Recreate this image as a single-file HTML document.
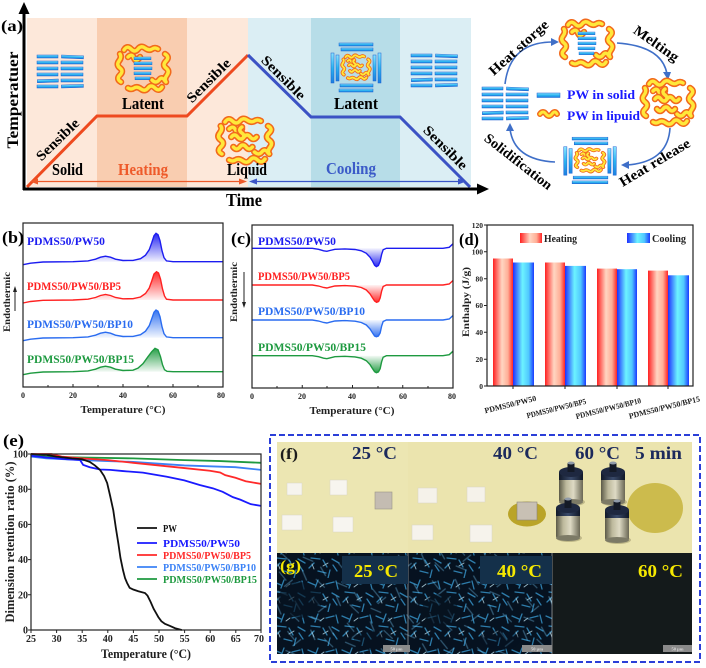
<!DOCTYPE html>
<html><head><meta charset="utf-8"><style>
html,body{margin:0;padding:0;background:#fff;}
svg{display:block;}
text{font-family:"Liberation Serif",serif;font-weight:bold;}
</style></head><body>
<svg width="706" height="668" viewBox="0 0 706 668" xmlns="http://www.w3.org/2000/svg" xmlns:xlink="http://www.w3.org/1999/xlink">
<defs>
 <linearGradient id="sg" x1="0" y1="0" x2="0" y2="1"><stop offset="0" stop-color="#8ae4ff"/><stop offset=".5" stop-color="#2cb4f0"/><stop offset="1" stop-color="#1a7fe0"/></linearGradient>
 <g id="stripes" fill="url(#sg)" stroke="#1e5fd0" stroke-width=".5">
  <rect x="-23" y="-16" width="21" height="3"/><rect x="1" y="-16" width="22" height="3" transform="rotate(2)"/>
  <rect x="-23" y="-10" width="21" height="3"/><rect x="1" y="-10" width="22" height="3"/>
  <rect x="-23" y="-4" width="21" height="3"/><rect x="1" y="-4" width="22" height="3"/>
  <rect x="-23" y="2" width="21" height="3"/><rect x="1" y="2" width="22" height="3"/>
  <rect x="-23" y="8" width="21" height="3" transform="rotate(-2)"/><rect x="1" y="8" width="22" height="3"/>
  <rect x="-23" y="14" width="21" height="3"/><rect x="1" y="14" width="22" height="3" transform="rotate(-1.5)"/>
 </g>
 <g id="ring" fill="none" stroke-linecap="round" stroke-linejoin="round">
  <path d="M-19,-18 q3,-5 7,-1 t7,0 t7,-1 t7,1 t6,0"/>
  <path d="M22,-14 q5,3 1,7 t0,7 t1,7 t-1,7"/>
  <path d="M19,19 q-3,5 -7,1 t-7,0 t-7,1 t-7,-1 t-6,0"/>
  <path d="M-22,14 q-5,-3 -1,-7 t0,-7 t-1,-7 t1,-7"/>
  <path d="M-15,-11 q4,-4 6,1 t6,-1"/>
  <path d="M9,12 q4,4 7,0 t6,1"/>
 </g>
 <g id="inner" fill="none" stroke-linecap="round" stroke-linejoin="round">
  <path d="M-13,-3 q3,-4 6,0 t6,0 t6,0 t6,0"/>
  <path d="M-11,7 q3,4 6,0 t6,0 t6,0"/>
  <path d="M-3,-13 q-4,3 0,6 t0,6"/>
 </g>
 <g id="blobR"><use xlink:href="#ring" stroke="#f26a1c" stroke-width="6.5"/><use xlink:href="#ring" stroke="#ffe83a" stroke-width="3.4"/></g>
 <g id="blobL"><use xlink:href="#blobR"/><use xlink:href="#inner" stroke="#f26a1c" stroke-width="6.5"/><use xlink:href="#inner" stroke="#ffe83a" stroke-width="3.4"/></g>
 <g id="latH"><use xlink:href="#blobR"/>
  <g fill="url(#sg)" stroke="#1e5fd0" stroke-width=".4"><rect x="-9" y="-11" width="17" height="2.8"/><rect x="-9" y="-6" width="18" height="2.8"/><rect x="-9" y="-1" width="18" height="2.8"/><rect x="-9" y="4" width="17" height="2.8"/><rect x="-8" y="9" width="15" height="2.8"/></g>
 </g>
 <g id="frame">
  <g fill="url(#sg)" stroke="#1e5fd0" stroke-width=".5">
   <rect x="-17" y="-24" width="34" height="3"/><rect x="-15" y="-19" width="32" height="3"/>
   <rect x="-16" y="17" width="33" height="3"/><rect x="-17" y="22" width="34" height="3"/>
   <rect x="-25" y="-14" width="3" height="30"/><rect x="-20" y="-12" width="3" height="26"/>
   <rect x="17" y="-12" width="3" height="26"/><rect x="22" y="-14" width="3" height="30"/>
  </g>
  <use xlink:href="#blobL" transform="scale(.55)"/>
 </g>
 <linearGradient id="hg" x1="0" x2="1" y1="0" y2="0"><stop offset="0" stop-color="#ff2020"/><stop offset=".45" stop-color="#ffd6c2"/><stop offset=".75" stop-color="#ffae96"/><stop offset="1" stop-color="#ff2525"/></linearGradient>
 <linearGradient id="cg" x1="0" x2="1" y1="0" y2="0"><stop offset="0" stop-color="#1f30ff"/><stop offset=".45" stop-color="#6cf3ff"/><stop offset=".75" stop-color="#50c8ff"/><stop offset="1" stop-color="#1a3aff"/></linearGradient>
 <linearGradient id="fB" x1="0" y1="0" x2="0" y2="1"><stop offset="0" stop-color="#1c1cf0" stop-opacity=".95"/><stop offset="1" stop-color="#1c1cf0" stop-opacity=".06"/></linearGradient>
 <linearGradient id="fR" x1="0" y1="0" x2="0" y2="1"><stop offset="0" stop-color="#ff2020" stop-opacity=".95"/><stop offset="1" stop-color="#ff2020" stop-opacity=".06"/></linearGradient>
 <linearGradient id="fL" x1="0" y1="0" x2="0" y2="1"><stop offset="0" stop-color="#2a6cf0" stop-opacity=".95"/><stop offset="1" stop-color="#2a6cf0" stop-opacity=".06"/></linearGradient>
 <linearGradient id="fG" x1="0" y1="0" x2="0" y2="1"><stop offset="0" stop-color="#1e9a40" stop-opacity=".95"/><stop offset="1" stop-color="#1e9a40" stop-opacity=".06"/></linearGradient>
 <linearGradient id="cB" x1="0" y1="1" x2="0" y2="0"><stop offset="0" stop-color="#1c1cf0" stop-opacity=".95"/><stop offset="1" stop-color="#1c1cf0" stop-opacity=".05"/></linearGradient>
 <linearGradient id="cR" x1="0" y1="1" x2="0" y2="0"><stop offset="0" stop-color="#ff2020" stop-opacity=".95"/><stop offset="1" stop-color="#ff2020" stop-opacity=".05"/></linearGradient>
 <linearGradient id="cL" x1="0" y1="1" x2="0" y2="0"><stop offset="0" stop-color="#2a6cf0" stop-opacity=".95"/><stop offset="1" stop-color="#2a6cf0" stop-opacity=".05"/></linearGradient>
 <linearGradient id="cG" x1="0" y1="1" x2="0" y2="0"><stop offset="0" stop-color="#1e9a40" stop-opacity=".95"/><stop offset="1" stop-color="#1e9a40" stop-opacity=".05"/></linearGradient>
 <linearGradient id="wg" x1="0" x2="1" y1="0" y2="0"><stop offset="0" stop-color="#5c5a48"/><stop offset=".3" stop-color="#bdb99c"/><stop offset=".6" stop-color="#dedac4"/><stop offset="1" stop-color="#6a6754"/></linearGradient>
 <linearGradient id="wc" x1="0" x2="1" y1="0" y2="0"><stop offset="0" stop-color="#101828"/><stop offset=".5" stop-color="#3a4a6a"/><stop offset="1" stop-color="#101828"/></linearGradient>
 <g id="wt">
  <ellipse cx="1" cy="40" rx="13" ry="4" fill="#9c956a" opacity=".55"/>
  <rect x="-12" y="10" width="24" height="30" rx="2" fill="url(#wg)"/>
  <ellipse cx="0" cy="40" rx="12" ry="3" fill="#7c7a66"/>
  <rect x="-12" y="10" width="24" height="8" fill="url(#wc)"/>
  <ellipse cx="0" cy="10" rx="12" ry="5" fill="#1e2840"/>
  <rect x="-3.5" y="1" width="7" height="9" fill="#141a26"/>
  <ellipse cx="0" cy="1" rx="3.5" ry="1.5" fill="#8f9aa8"/>
 </g>
 <pattern id="cr" width="34" height="34" patternUnits="userSpaceOnUse">
  <path d="M2,4 l7,3 M12,2 l-3,8 M20,6 l8,-2 M30,3 l2,8 M5,14 l9,1 M17,16 l4,7 M26,15 l7,4 M3,24 l5,-5 M12,27 l8,2 M24,26 l-2,8 M31,27 l-4,-6" stroke="#3a9fd8" stroke-width="1.3" stroke-linecap="round" fill="none"/>
  <path d="M14,9 l4,-3 M22,19 l-5,3 M6,20 l2,5" stroke="#c8f0ff" stroke-width=".9" stroke-linecap="round" fill="none"/>
 </pattern>
 <pattern id="cr2" width="34" height="34" patternUnits="userSpaceOnUse" patternTransform="rotate(37) scale(1.25)">
  <path d="M2,4 l7,3 M20,6 l8,-2 M5,14 l9,1 M26,15 l7,4 M12,27 l8,2 M24,26 l-2,8" stroke="#7ad0ff" stroke-width="1.1" stroke-linecap="round" fill="none"/>
 </pattern>
</defs>

<!-- ===== Panel (a) ===== -->
<rect x="27" y="18" width="70" height="169" fill="#fde8da"/>
<rect x="97" y="18" width="90" height="169" fill="#f9cdb0"/>
<rect x="187" y="18" width="61" height="169" fill="#fde8da"/>
<rect x="248" y="18" width="63" height="169" fill="#dbeef4"/>
<rect x="311" y="18" width="89" height="169" fill="#b7dde8"/>
<rect x="400" y="18" width="71" height="169" fill="#dbeef4"/>

<use xlink:href="#stripes" transform="translate(60,71)"/>
<use xlink:href="#stripes" transform="translate(434,70)"/>
<use xlink:href="#latH" transform="translate(143,68)"/>
<use xlink:href="#blobL" transform="translate(245,140) scale(1.05,1)"/>
<use xlink:href="#frame" transform="translate(356,67)"/>

<polyline points="27,187 97,116 187,116 248,55" fill="none" stroke="#ee4a1f" stroke-width="3"/>
<polyline points="248,55 311,117 400,117 470,187" fill="none" stroke="#3b52c4" stroke-width="3"/>

<line x1="36" y1="181.5" x2="240" y2="181.5" stroke="#ee5a2a" stroke-width="1.3"/>
<polygon points="30,181.5 38,178.5 38,184.5" fill="#ee5a2a"/><polygon points="247,181.5 239,178.5 239,184.5" fill="#ee5a2a"/>
<line x1="254" y1="181.5" x2="460" y2="181.5" stroke="#3b55c8" stroke-width="1.3"/>
<polygon points="249,181.5 257,178.5 257,184.5" fill="#3b55c8"/><polygon points="466,181.5 458,178.5 458,184.5" fill="#3b55c8"/>

<line x1="24" y1="190" x2="24" y2="12" stroke="#000" stroke-width="3"/>
<polygon points="24,2 18.5,14 29.5,14" fill="#000"/>
<line x1="23" y1="189" x2="478" y2="189" stroke="#000" stroke-width="3"/>
<polygon points="489,189 477,183.5 477,194.5" fill="#000"/>

<text x="1" y="31" font-size="16" textLength="22" lengthAdjust="spacingAndGlyphs">(a)</text>
<text transform="translate(18,100) rotate(-90)" text-anchor="middle" font-size="16" textLength="97" lengthAdjust="spacingAndGlyphs">Temperatuer</text>
<text x="226" y="206" font-size="18" textLength="36" lengthAdjust="spacingAndGlyphs">Time</text>
<text x="122" y="109" font-size="17" textLength="42" lengthAdjust="spacingAndGlyphs">Latent</text>
<text x="334" y="109" font-size="17" textLength="44" lengthAdjust="spacingAndGlyphs">Latent</text>
<text x="52" y="175" font-size="17" textLength="31" lengthAdjust="spacingAndGlyphs">Solid</text>
<text x="118" y="175" font-size="17" fill="#ee5a2a" textLength="50" lengthAdjust="spacingAndGlyphs">Heating</text>
<text x="227" y="175" font-size="17" textLength="40" lengthAdjust="spacingAndGlyphs">Liquid</text>
<text x="326" y="174" font-size="17" fill="#3b5bc8" textLength="50" lengthAdjust="spacingAndGlyphs">Cooling</text>
<text transform="translate(58,140) rotate(-44)" y="4" text-anchor="middle" font-size="14" textLength="54" lengthAdjust="spacingAndGlyphs">Sensible</text>
<text transform="translate(209,81) rotate(-45)" y="4" text-anchor="middle" font-size="14" textLength="56" lengthAdjust="spacingAndGlyphs">Sensible</text>
<text transform="translate(283,78) rotate(45)" y="4" text-anchor="middle" font-size="14" textLength="56" lengthAdjust="spacingAndGlyphs">Sensible</text>
<text transform="translate(445,148) rotate(45)" y="4" text-anchor="middle" font-size="14" textLength="56" lengthAdjust="spacingAndGlyphs">Sensible</text>

<!-- right cycle -->
<g fill="none" stroke="#3f6fc8" stroke-width="1.6">
 <path d="M505,84 Q510,42 553,42"/>
 <path d="M617,43 Q662,46 667,74"/>
 <path d="M670,128 Q668,162 627,165"/>
 <path d="M555,162 Q514,160 510,129"/>
</g>
<g fill="#3f6fc8">
 <polygon points="559,42 551,38 551,46"/>
 <polygon points="668,80 663,72 671,72"/>
 <polygon points="621,165 629,161 629,169"/>
 <polygon points="510,123 506,131 514,131"/>
</g>
<use xlink:href="#latH" transform="translate(587,43)"/>
<use xlink:href="#blobL" transform="translate(668,102)"/>
<use xlink:href="#frame" transform="translate(590,160) scale(1.05,.95)"/>
<use xlink:href="#stripes" transform="translate(505,103)"/>
<rect x="537" y="93" width="23" height="4.5" fill="url(#sg)" stroke="#1e5fd0" stroke-width=".5"/>
<path d="M540,114 q3,-4 6,0 t6,0 t5,0" fill="none" stroke="#f26a1c" stroke-width="6" stroke-linecap="round"/>
<path d="M540,114 q3,-4 6,0 t6,0 t5,0" fill="none" stroke="#ffe83a" stroke-width="3" stroke-linecap="round"/>
<text x="567" y="99" font-size="13" fill="#1a1aff" textLength="68" lengthAdjust="spacingAndGlyphs">PW in solid</text>
<text x="567" y="120" font-size="13" fill="#1a1aff" textLength="73" lengthAdjust="spacingAndGlyphs">PW in lipuid</text>
<text transform="translate(519,48) rotate(-42)" y="4" text-anchor="middle" font-size="14" textLength="75" lengthAdjust="spacingAndGlyphs">Heat storge</text>
<text transform="translate(656,44) rotate(35)" y="4" text-anchor="middle" font-size="14" textLength="52" lengthAdjust="spacingAndGlyphs">Melting</text>
<text transform="translate(655,163) rotate(-31)" y="4" text-anchor="middle" font-size="14" textLength="80" lengthAdjust="spacingAndGlyphs">Heat release</text>
<text transform="translate(518,162) rotate(38)" y="4" text-anchor="middle" font-size="14" textLength="82" lengthAdjust="spacingAndGlyphs">Solidification</text>

<!-- ===== Panel (b) ===== -->
<g>
 <g transform="translate(23,261.7) scale(2.5,1)">
  <path d="M28,0 L29,-2.5 L31,-4.5 L33,-5.5 L35,-4.5 L37,-2.5 L40,-1.2 L44,-1.3 L47,-3 L49,-6.5 L50.5,-12 L51.5,-19 L52.4,-26 L53.2,-28.4 L54,-27 L54.8,-21 L55.6,-11 L56.4,-4 L57.4,-0.8 L58,0 Z" fill="url(#fB)"/>
  <path d="M0,3 L3,1.5 L8,0.3 L20,0 L26,-0.8 L29,-2.5 L31,-4.5 L33,-5.5 L35,-4.5 L37,-2.5 L40,-1.2 L44,-1.3 L47,-3 L49,-6.5 L50.5,-12 L51.5,-19 L52.4,-26 L53.2,-28.4 L54,-27 L54.8,-21 L55.6,-11 L56.4,-4 L57.4,-0.8 L60,0 L80,0" fill="none" stroke="#1c1cf0" stroke-width="1.4" vector-effect="non-scaling-stroke"/>
 </g>
 <g transform="translate(23,300) scale(2.5,1)">
  <path d="M28,0 L29,-2.5 L31,-4.5 L33,-5.5 L35,-4.5 L37,-2.5 L40,-1.2 L44,-1.3 L47,-3 L49,-6.5 L50.5,-12 L51.5,-19 L52.4,-26 L53.4,-28.3 L54.2,-27 L55,-21 L55.8,-11 L56.6,-4 L57.4,-0.8 L58,0 Z" fill="url(#fR)"/>
  <path d="M0,3 L3,1.5 L8,0.3 L20,0 L26,-0.8 L29,-2.5 L31,-4.5 L33,-5.5 L35,-4.5 L37,-2.5 L40,-1.2 L44,-1.3 L47,-3 L49,-6.5 L50.5,-12 L51.5,-19 L52.4,-26 L53.4,-28.3 L54.2,-27 L55,-21 L55.8,-11 L56.6,-4 L57.4,-0.8 L60,0 L80,0" fill="none" stroke="#ff2020" stroke-width="1.4" vector-effect="non-scaling-stroke"/>
 </g>
 <g transform="translate(23,337.7) scale(2.5,1)">
  <path d="M28,0 L29,-2.5 L31,-4.5 L33,-5.5 L35,-4.5 L37,-2.5 L40,-1.2 L44,-1.3 L47,-3 L49,-6.5 L50.5,-12 L51.5,-19 L52.4,-25.5 L53.2,-27.7 L54,-26.5 L54.8,-21 L55.6,-11 L56.4,-4 L57.4,-0.8 L58,0 Z" fill="url(#fL)"/>
  <path d="M0,3 L3,1.5 L8,0.3 L20,0 L26,-0.8 L29,-2.5 L31,-4.5 L33,-5.5 L35,-4.5 L37,-2.5 L40,-1.2 L44,-1.3 L47,-3 L49,-6.5 L50.5,-12 L51.5,-19 L52.4,-25.5 L53.2,-27.7 L54,-26.5 L54.8,-21 L55.6,-11 L56.4,-4 L57.4,-0.8 L60,0 L80,0" fill="none" stroke="#2a6cf0" stroke-width="1.4" vector-effect="non-scaling-stroke"/>
 </g>
 <g transform="translate(23,371.7) scale(2.5,1)">
  <path d="M28,0 L29,-2.5 L31,-4.5 L33,-5.5 L35,-4.5 L37,-2.5 L40,-1.2 L44,-1.5 L46,-3.5 L48,-8 L50,-15 L51.5,-20 L52.8,-23.4 L54,-22 L55,-15 L55.8,-7 L56.6,-2 L57.6,-0.4 L58,0 Z" fill="url(#fG)"/>
  <path d="M0,3 L3,1.5 L8,0.3 L20,0 L26,-0.8 L29,-2.5 L31,-4.5 L33,-5.5 L35,-4.5 L37,-2.5 L40,-1.2 L44,-1.5 L46,-3.5 L48,-8 L50,-15 L51.5,-20 L52.8,-23.4 L54,-22 L55,-15 L55.8,-7 L56.6,-2 L57.6,-0.4 L60,0 L80,0" fill="none" stroke="#1e9a40" stroke-width="1.4" vector-effect="non-scaling-stroke"/>
 </g>
 <rect x="23" y="223" width="200" height="164" fill="none" stroke="#222" stroke-width="1.2"/>
 <g stroke="#222" stroke-width="1"><path d="M23,387v-3M73,387v-3M123,387v-3M173,387v-3M223,387v-3M48,387v-2M98,387v-2M148,387v-2M198,387v-2"/></g>
 <g font-size="8" text-anchor="middle" fill="#222"><text x="23" y="398">0</text><text x="73" y="398">20</text><text x="123" y="398">40</text><text x="173" y="398">60</text><text x="221" y="398">80</text></g>
 <text x="123" y="413" font-size="10" text-anchor="middle" fill="#222" textLength="85" lengthAdjust="spacingAndGlyphs">Temperature (°C)</text>
 <text x="2" y="243" font-size="17" textLength="22" lengthAdjust="spacingAndGlyphs">(b)</text>
 <text transform="translate(10,302) rotate(-90)" text-anchor="middle" font-size="9.5" fill="#222" textLength="60" lengthAdjust="spacingAndGlyphs">Endothermic</text>
 <line x1="15" y1="311" x2="15" y2="291" stroke="#222" stroke-width="1"/><polygon points="15,286 13,292 17,292" fill="#222"/>
 <text x="27" y="245" font-size="11.5" fill="#1c1cf0" textLength="78" lengthAdjust="spacingAndGlyphs">PDMS50/PW50</text>
 <text x="27" y="290" font-size="11.5" fill="#ff2020" textLength="94" lengthAdjust="spacingAndGlyphs">PDMS50/PW50/BP5</text>
 <text x="27" y="328" font-size="11.5" fill="#2a6cf0" textLength="106" lengthAdjust="spacingAndGlyphs">PDMS50/PW50/BP10</text>
 <text x="27" y="363" font-size="11.5" fill="#1e9a40" textLength="107" lengthAdjust="spacingAndGlyphs">PDMS50/PW50/BP15</text>
</g>

<!-- ===== Panel (c) ===== -->
<g>
 <g transform="translate(252,248.3) scale(2.5125,1)">
  <path d="M38,0 L41,1.2 L43.5,2.5 L45.5,5 L47,9 L48,13 L48.8,17 L49.5,18.4 L50.3,17.2 L51,13 L51.6,6 L52.2,1.5 L53,0 Z" fill="url(#cB)"/>
  <path d="M0,0 L24,0 L26.5,1 L28.5,2.5 L29.8,3 L31,2.2 L33,1 L37,0.6 L41,1.2 L43.5,2.5 L45.5,5 L47,9 L48,13 L48.8,17 L49.5,18.4 L50.3,17.2 L51,13 L51.6,6 L52.2,1.5 L53.5,0 L76,0 L78.5,-1 L80,-4.5" fill="none" stroke="#1c1cf0" stroke-width="1.4" vector-effect="non-scaling-stroke"/>
 </g>
 <g transform="translate(252,285) scale(2.5125,1)">
  <path d="M38,0 L41,1.2 L43.5,2.5 L45.5,5 L47,9 L48,13 L48.8,16 L49.6,17.3 L50.4,16.5 L51,13 L51.6,6 L52.2,1.5 L53,0 Z" fill="url(#cR)"/>
  <path d="M0,0 L24,0 L26.5,1 L28.5,2.5 L29.8,3 L31,2.2 L33,1 L37,0.6 L41,1.2 L43.5,2.5 L45.5,5 L47,9 L48,13 L48.8,16 L49.6,17.3 L50.4,16.5 L51,13 L51.6,6 L52.2,1.5 L53.5,0 L76,0 L78.5,-1 L80,-4.5" fill="none" stroke="#ff2020" stroke-width="1.4" vector-effect="non-scaling-stroke"/>
 </g>
 <g transform="translate(252,320) scale(2.5125,1)">
  <path d="M38,0 L41,1.2 L43.5,2.5 L45.5,5 L47,9 L48,13 L48.8,16 L49.5,16.7 L50.3,16 L51,13 L51.6,6 L52.2,1.5 L53,0 Z" fill="url(#cL)"/>
  <path d="M0,0 L24,0 L26.5,1 L28.5,2.5 L29.8,3 L31,2.2 L33,1 L37,0.6 L41,1.2 L43.5,2.5 L45.5,5 L47,9 L48,13 L48.8,16 L49.5,16.7 L50.3,16 L51,13 L51.6,6 L52.2,1.5 L53.5,0 L76,0 L78.5,-1 L80,-4.5" fill="none" stroke="#2a6cf0" stroke-width="1.4" vector-effect="non-scaling-stroke"/>
 </g>
 <g transform="translate(252,355.7) scale(2.5125,1)">
  <path d="M38,0 L41,1.2 L43.5,2.5 L45.5,5 L47,9 L48,13 L48.8,16 L49.5,17 L50.3,16.2 L51,13 L51.6,6 L52.2,1.5 L53,0 Z" fill="url(#cG)"/>
  <path d="M0,0 L24,0 L26.5,1 L28.5,2.5 L29.8,3 L31,2.2 L33,1 L37,0.6 L41,1.2 L43.5,2.5 L45.5,5 L47,9 L48,13 L48.8,16 L49.5,17 L50.3,16.2 L51,13 L51.6,6 L52.2,1.5 L53.5,0 L76,0 L78.5,-1 L80,-4.5" fill="none" stroke="#1e9a40" stroke-width="1.4" vector-effect="non-scaling-stroke"/>
 </g>
 <rect x="252" y="225" width="201" height="163" fill="none" stroke="#222" stroke-width="1.2"/>
 <g stroke="#222" stroke-width="1"><path d="M252,388v-3M302.25,388v-3M352.5,388v-3M402.75,388v-3M453,388v-3M277,388v-2M327,388v-2M378,388v-2M428,388v-2"/></g>
 <g font-size="8" text-anchor="middle" fill="#222"><text x="252" y="399">0</text><text x="302" y="399">20</text><text x="352" y="399">40</text><text x="403" y="399">60</text><text x="452" y="399">80</text></g>
 <text x="352" y="414" font-size="10" text-anchor="middle" fill="#222" textLength="85" lengthAdjust="spacingAndGlyphs">Temperature (°C)</text>
 <text x="231" y="244" font-size="17" textLength="20" lengthAdjust="spacingAndGlyphs">(c)</text>
 <text transform="translate(237,292) rotate(-90)" text-anchor="middle" font-size="9.5" fill="#222" textLength="60" lengthAdjust="spacingAndGlyphs">Endothermic</text>
 <line x1="244" y1="272" x2="244" y2="303" stroke="#222" stroke-width="1"/><polygon points="244,308 242,302 246,302" fill="#222"/>
 <text x="258" y="245" font-size="11.5" fill="#1c1cf0" textLength="78" lengthAdjust="spacingAndGlyphs">PDMS50/PW50</text>
 <text x="258" y="280" font-size="11.5" fill="#ff2020" textLength="92" lengthAdjust="spacingAndGlyphs">PDMS50/PW50/BP5</text>
 <text x="258" y="315" font-size="11.5" fill="#2a6cf0" textLength="107" lengthAdjust="spacingAndGlyphs">PDMS50/PW50/BP10</text>
 <text x="258" y="351" font-size="11.5" fill="#1e9a40" textLength="108" lengthAdjust="spacingAndGlyphs">PDMS50/PW50/BP15</text>
</g>

<!-- ===== Panel (d) ===== -->
<g>
 <rect x="493" y="258.5" width="20" height="127.5" fill="url(#hg)"/>
 <rect x="513" y="262.5" width="21" height="123.5" fill="url(#cg)"/>
 <rect x="545" y="262.5" width="20" height="123.5" fill="url(#hg)"/>
 <rect x="565" y="265.9" width="21" height="120.1" fill="url(#cg)"/>
 <rect x="597" y="268.6" width="20" height="117.4" fill="url(#hg)"/>
 <rect x="617" y="269.2" width="20" height="116.8" fill="url(#cg)"/>
 <rect x="648" y="270.6" width="20" height="115.4" fill="url(#hg)"/>
 <rect x="668" y="275.3" width="21" height="110.7" fill="url(#cg)"/>
 <rect x="487" y="225" width="206" height="161" fill="none" stroke="#222" stroke-width="1.2"/>
 <g stroke="#222" stroke-width="1"><path d="M487,386h-3M487,359.2h-3M487,332.3h-3M487,305.5h-3M487,278.7h-3M487,251.8h-3M487,225h-3M513,386v3M565,386v3M617,386v3M668,386v3"/></g>
 <g font-size="7.5" text-anchor="end" fill="#222"><text x="483" y="389">0</text><text x="483" y="362">20</text><text x="483" y="335">40</text><text x="483" y="308">60</text><text x="483" y="281.5">80</text><text x="483" y="254.5">100</text><text x="483" y="228">120</text></g>
 <rect x="520" y="233" width="22" height="10" fill="url(#hg)"/>
 <text x="544" y="242" font-size="10" fill="#222" textLength="33" lengthAdjust="spacingAndGlyphs">Heating</text>
 <rect x="627" y="233" width="23" height="10" fill="url(#cg)"/>
 <text x="652" y="242" font-size="10" fill="#222" textLength="34" lengthAdjust="spacingAndGlyphs">Cooling</text>
 <text x="459" y="245" font-size="17" textLength="20" lengthAdjust="spacingAndGlyphs">(d)</text>
 <text transform="translate(469,302) rotate(-90)" text-anchor="middle" font-size="9" fill="#222" textLength="70" lengthAdjust="spacingAndGlyphs">Enthalpy (J/g)</text>
 <g font-size="8" text-anchor="middle" fill="#222">
  <text transform="translate(511,407) rotate(-14)" textLength="53" lengthAdjust="spacingAndGlyphs">PDMS50/PW50</text>
  <text transform="translate(557,411) rotate(-14)" textLength="61" lengthAdjust="spacingAndGlyphs">PDMS50/PW50/BP5</text>
  <text transform="translate(609,411) rotate(-14)" textLength="67" lengthAdjust="spacingAndGlyphs">PDMS50/PW50/BP10</text>
  <text transform="translate(665,410) rotate(-14)" textLength="73" lengthAdjust="spacingAndGlyphs">PDMS50/PW50/BP15</text>
 </g>
</g>

<!-- ===== Panel (e) ===== -->
<g>
 <g transform="translate(-96.78,630) scale(5.1111,-1.76)" fill="none" stroke-width="1.8">
  <polyline vector-effect="non-scaling-stroke" stroke="#1e9a40" points="25,99.5 28,98.5 35,98 45,97.5 55,96.5 62,96 70,95"/>
  <polyline vector-effect="non-scaling-stroke" stroke="#3b82f6" points="25,98.5 28,97.5 35,96.5 40,96 45,95.5 50,94.5 55,93.5 60,93 65,92.5 70,91"/>
  <polyline vector-effect="non-scaling-stroke" stroke="#ff2a2a" points="25,100 29,100 31,98.5 35,97.5 40,96.5 45,95 50,93.5 55,92 60,90.5 62,89.5 63,88 65,86.5 67,84.5 68,84 70,83"/>
  <polyline vector-effect="non-scaling-stroke" stroke="#1a1aff" points="25,99 28,98 32,97 34.6,96.6 35.2,93.8 36.5,92.5 38.5,91.2 40.5,91 43,90.3 46.9,89.4 51.6,87.1 55,85 58,82.4 60.6,80.5 62.5,78.5 64.5,75.5 66,74 67.2,72.5 68,71.5 70,70.5"/>
  <polyline vector-effect="non-scaling-stroke" stroke="#111" points="25,100 28,99.5 30,98.5 33,97.5 35,97 36.5,95.5 37.5,93.5 38.5,91 39.3,87.5 39.9,83.5 40.5,76 41.1,68 41.6,58 42.1,49 42.5,41 43,34 43.4,29.5 43.8,26.7 44.3,24 45,23 46,22 47.3,21 47.8,19.5 48.4,16 49,12 49.5,9.5 49.9,7.4 50.5,5 51.2,3.5 52.2,2.3 53.2,1 54.5,0"/>
 </g>
 <rect x="31" y="454" width="230" height="176" fill="none" stroke="#222" stroke-width="1.2"/>
 <g stroke="#222" stroke-width="1"><path d="M31,630v3M56.6,630v3M82.2,630v3M107.8,630v3M133.4,630v3M159,630v3M184.6,630v3M210.2,630v3M235.8,630v3M261,630v3M31,630h-3M31,594.8h-3M31,559.6h-3M31,524.4h-3M31,489.2h-3M31,454h-3"/></g>
 <g font-size="10" text-anchor="middle" fill="#222"><text x="31" y="642">25</text><text x="56.6" y="642">30</text><text x="82.2" y="642">35</text><text x="107.8" y="642">40</text><text x="133.4" y="642">45</text><text x="159" y="642">50</text><text x="184.6" y="642">55</text><text x="210.2" y="642">60</text><text x="235.8" y="642">65</text><text x="259" y="642">70</text></g>
 <g font-size="10" text-anchor="end" fill="#222"><text x="28" y="633.5">0</text><text x="28" y="598.3">20</text><text x="28" y="563.1">40</text><text x="28" y="527.9">60</text><text x="28" y="492.7">80</text><text x="28" y="457.5">100</text></g>
 <text x="146" y="658" font-size="13" text-anchor="middle" fill="#222" textLength="90" lengthAdjust="spacingAndGlyphs">Temperature (°C)</text>
 <text transform="translate(14,542) rotate(-90)" text-anchor="middle" font-size="12.5" fill="#222" textLength="161" lengthAdjust="spacingAndGlyphs">Dimension retention ratio (%)</text>
 <text x="3" y="446" font-size="17" textLength="21" lengthAdjust="spacingAndGlyphs">(e)</text>
 <g stroke-width="1.8">
  <line x1="137" y1="528" x2="157" y2="528" stroke="#111"/>
  <line x1="137" y1="543" x2="157" y2="543" stroke="#1a1aff"/>
  <line x1="137" y1="555" x2="157" y2="555" stroke="#ff2a2a"/>
  <line x1="137" y1="567" x2="157" y2="567" stroke="#3b82f6"/>
  <line x1="137" y1="579" x2="157" y2="579" stroke="#1e9a40"/>
 </g>
 <text x="163" y="532" font-size="10.5" fill="#111" textLength="14" lengthAdjust="spacingAndGlyphs">PW</text>
 <text x="163" y="547" font-size="10.5" fill="#1a1aff" textLength="77" lengthAdjust="spacingAndGlyphs">PDMS50/PW50</text>
 <text x="163" y="559" font-size="10.5" fill="#ff2a2a" textLength="88" lengthAdjust="spacingAndGlyphs">PDMS50/PW50/BP5</text>
 <text x="163" y="571" font-size="10.5" fill="#3b82f6" textLength="93" lengthAdjust="spacingAndGlyphs">PDMS50/PW50/BP10</text>
 <text x="163" y="583" font-size="10.5" fill="#1e9a40" textLength="94" lengthAdjust="spacingAndGlyphs">PDMS50/PW50/BP15</text>
</g>

<!-- ===== Panels (f) & (g) ===== -->
<g>
 <rect x="277" y="442" width="131" height="111" fill="#ece6b2"/>
 <rect x="408" y="442" width="144" height="111" fill="#ebe4ae"/>
 <rect x="552" y="442" width="140" height="111" fill="#ebe4ae"/>
 <!-- col1 samples -->
 <rect x="287" y="483" width="15" height="12" fill="#f6f4ee" stroke="#d8d4c4" stroke-width=".5"/>
 <rect x="330" y="480" width="17" height="15" fill="#f7f5ef" stroke="#d8d4c4" stroke-width=".5"/>
 <rect x="375" y="492" width="17" height="17" fill="#c4bcb2" stroke="#9a9488" stroke-width=".6"/>
 <rect x="282" y="515" width="20" height="15" fill="#f7f5f0" stroke="#d8d4c4" stroke-width=".5"/>
 <rect x="333" y="517" width="20" height="15" fill="#f7f5f0" stroke="#d8d4c4" stroke-width=".5"/>
 <!-- col2 samples -->
 <rect x="418" y="488" width="19" height="15" fill="#f5f2ea" stroke="#d8d4c4" stroke-width=".5"/>
 <rect x="467" y="487" width="18" height="15" fill="#f5f2ea" stroke="#d8d4c4" stroke-width=".5"/>
 <rect x="412" y="525" width="21" height="15" fill="#f6f3ec" stroke="#d8d4c4" stroke-width=".5"/>
 <rect x="470" y="525" width="22" height="17" fill="#f6f3ec" stroke="#d8d4c4" stroke-width=".5"/>
 <ellipse cx="527" cy="514" rx="19" ry="12.5" fill="#b59c1a" opacity=".9"/>
 <rect x="517" y="502" width="20" height="18" fill="#c8c0b4" stroke="#8c8678" stroke-width=".6"/>
 <!-- col3 -->
 <ellipse cx="655" cy="508" rx="28" ry="25" fill="#c9b642" opacity=".9"/>
 <use xlink:href="#wt" transform="translate(571,462)"/>
 <use xlink:href="#wt" transform="translate(613,462)"/>
 <use xlink:href="#wt" transform="translate(568,498)"/>
 <use xlink:href="#wt" transform="translate(617,500)"/>
 <text x="280" y="459" font-size="16" fill="#1c1c1c" textLength="18" lengthAdjust="spacingAndGlyphs">(f)</text>
 <g font-size="18" fill="#1c2a5c">
  <text x="352" y="459" textLength="45" lengthAdjust="spacingAndGlyphs">25 °C</text>
  <text x="493" y="459" textLength="45" lengthAdjust="spacingAndGlyphs">40 °C</text>
  <text x="575" y="459" textLength="45" lengthAdjust="spacingAndGlyphs">60 °C</text>
  <text x="635" y="459" textLength="47" lengthAdjust="spacingAndGlyphs">5 min</text>
 </g>

 <rect x="277" y="553" width="131" height="101" fill="#061220"/>
 <rect x="408" y="553" width="144" height="101" fill="#061220"/>
 <rect x="277" y="553" width="275" height="101" fill="url(#cr)" opacity=".75"/>
 <rect x="277" y="553" width="275" height="101" fill="url(#cr2)" opacity=".35"/>
 <ellipse cx="300" cy="600" rx="22" ry="18" fill="#061220" opacity=".65"/>
 <ellipse cx="440" cy="610" rx="18" ry="16" fill="#061220" opacity=".6"/>
 <ellipse cx="370" cy="640" rx="16" ry="10" fill="#061220" opacity=".45"/>
 <ellipse cx="500" cy="640" rx="20" ry="10" fill="#061220" opacity=".4"/>
 <rect x="552" y="553" width="140" height="101" fill="#141a1b"/>
 <line x1="408" y1="553" x2="408" y2="654" stroke="#ccc" stroke-width=".6"/>
 <line x1="552" y1="553" x2="552" y2="654" stroke="#ccc" stroke-width=".6"/>
 <rect x="342" y="556" width="66" height="28" fill="#14304a"/>
 <rect x="480" y="556" width="72" height="28" fill="#14304a"/>
 <g font-size="18" fill="#f5e800">
  <text x="354" y="577" textLength="44" lengthAdjust="spacingAndGlyphs">25 °C</text>
  <text x="497" y="577" textLength="45" lengthAdjust="spacingAndGlyphs">40 °C</text>
  <text x="638" y="577" textLength="45" lengthAdjust="spacingAndGlyphs">60 °C</text>
 </g>
 <text x="280" y="571" font-size="16" fill="#f5e800" textLength="21" lengthAdjust="spacingAndGlyphs">(g)</text>
 <g fill="#8a8a8a"><rect x="383" y="645" width="27" height="7"/><rect x="522" y="645" width="30" height="7"/><rect x="663" y="645" width="29" height="7"/></g>
 <g font-size="4.5" fill="#ddd" text-anchor="middle"><text x="396.5" y="650.5">50 μm</text><text x="537" y="650.5">50 μm</text><text x="677.5" y="650.5">50 μm</text></g>
 <rect x="270" y="435" width="430" height="227" fill="none" stroke="#2b3fd8" stroke-width="2" stroke-dasharray="6,3"/>
</g>
</svg>
</body></html>
